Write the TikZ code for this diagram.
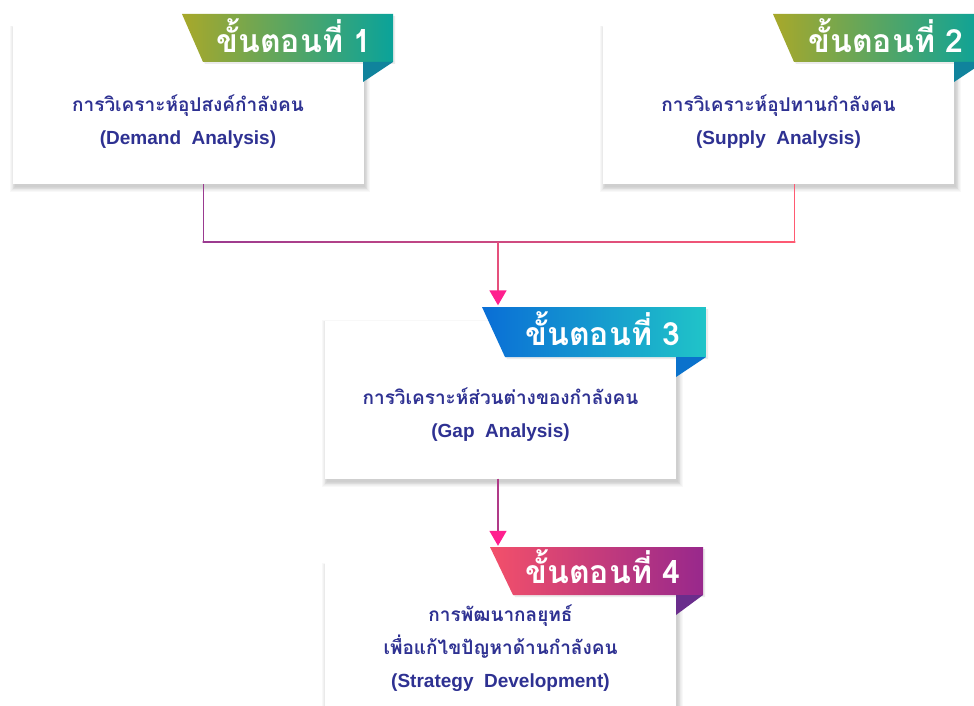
\documentclass[tikz,border=0pt]{standalone}
\usepackage{fontspec}
\setmainfont{Liberation Sans}
\newfontfamily\thai[Script=Thai]{Loma}
\newfontfamily\latf{Liberation Sans}
\usetikzlibrary{arrows.meta,calc}
\definecolor{txtblue}{HTML}{2E3192}
\definecolor{gAl}{HTML}{A8A82A}
\definecolor{gAr}{HTML}{0AA39A}
\definecolor{gAf}{HTML}{10839C}
\definecolor{gBl}{HTML}{0A6ED6}
\definecolor{gBr}{HTML}{20C4C8}
\definecolor{gBf}{HTML}{0A72CC}
\definecolor{gCl}{HTML}{F3506A}
\definecolor{gCr}{HTML}{98288C}
\definecolor{gCf}{HTML}{6A2D8C}
\definecolor{lnpurple}{HTML}{9A3A90}
\definecolor{lnpink}{HTML}{FF5A72}
\definecolor{lnmid}{HTML}{E5507C}
\definecolor{lnmag}{HTML}{B03A88}
\definecolor{tippink}{HTML}{FF1F8E}
\tikzset{
  stepbox/.style={fill=white,draw=none,minimum width=351pt,minimum height=158pt,inner sep=0pt},
  body/.style={text=txtblue,font=\thai\bfseries\fontsize{19}{33}\selectfont,align=center},
  tabtxt/.style={text=white,font=\thai\bfseries\fontsize{32}{32}\selectfont,anchor=base,inner sep=0pt},
  conn/.style={line width=1.7pt},
  tiparrow/.style={-{Triangle[width=17pt,length=15pt,color=tippink]}},
}
\newcommand{\boxshadow}[4]{%
  \foreach \i in {0,1,...,6}{%
    \fill[black,opacity=0.026] ({#1+2-\i*0.8},{#2+3-\i*0.5}) rectangle ({#3+2+\i*0.8},{#4+3+\i*0.8});
  }%
}
\newcommand{\steptab}[9]{%
  \fill[black,opacity=0.08] ({#1+2},{#3+2}) -- ({#2+2},{#3+2}) -- ({#2+2},{#4+2}) -- ({#1+#5+2},{#4+2}) -- cycle;
  \shade[left color=#7,right color=#8] (#1,#3) -- (#2,#3) -- (#2,#4) -- ({#1+#5},#4) -- cycle;
  \fill[#9] (#6,#4) -- (#2,#4) -- (#6,{#4+20}) -- cycle;
}
\begin{document}
\begin{tikzpicture}[x=1pt,y=-1pt]
\useasboundingbox (0,0) rectangle (974,706);
\clip (0,0) rectangle (974,706);
\fill[white] (0,0) rectangle (974,706);
% shadows
\boxshadow{13}{26}{363}{184}
\boxshadow{603}{26}{954}{184}
\boxshadow{325}{320}{676}{479}
\boxshadow{325}{563}{676}{721}
% boxes
\node[stepbox] (b1) at (188,105) {};
\node[stepbox] (b2) at (778.5,105) {};
\node[stepbox] (b3) at (500.5,399.5) {};
\node[stepbox] (b4) at (500.5,642) {};
% tabs
\steptab{182}{393}{14}{62}{21}{363}{gAl}{gAr}{gAf}
\steptab{773}{984}{14}{62}{21}{954}{gAl}{gAr}{gAf}
\steptab{482}{706}{307}{357}{23}{676}{gBl}{gBr}{gBf}
\steptab{490}{703}{547}{595}{23}{676}{gCl}{gCr}{gCf}
\node[tabtxt] (s1) at (294,53) {ขั้นตอนที่ 1};
\node[tabtxt] (s2) at (886,53) {ขั้นตอนที่ 2};
\node[tabtxt] (s3) at (603,345) {ขั้นตอนที่ 3};
\node[tabtxt] (s4) at (603,583) {ขั้นตอนที่ 4};
% body texts
\node[body] (t1) at (188,122) {การวิเคราะห์อุปสงค์กำลังคน\\{\latf\bfseries (Demand\ \ Analysis)}};
\node[body] (t2) at (778.5,122) {การวิเคราะห์อุปทานกำลังคน\\{\latf\bfseries (Supply\ \ Analysis)}};
\node[body] (t3) at (500.5,415) {การวิเคราะห์ส่วนต่างของกำลังคน\\{\latf\bfseries (Gap\ \ Analysis)}};
\node[body] (t4) at (500.5,648) {การพัฒนากลยุทธ์\\เพื่อแก้ไขปัญหาด้านกำลังคน\\{\latf\bfseries (Strategy\ \ Development)}};
% connectors
\coordinate (j) at (498,242);
\coordinate (jl) at (203.5,242);
\coordinate (jr) at (794.5,242);
\draw[conn,lnpurple] ($(b1.south)+(15.5,0)$) -- (jl);
\draw[conn,lnpink] ($(b2.south)+(16,0)$) -- (jr);
\shade[left color=lnpurple,right color=lnpink] ($(jl)+(-0.85,-0.85)$) rectangle ($(jr)+(0.85,0.85)$);
\draw[conn,lnmid,tiparrow] (j) -- ($(b3.north)+(-2.5,-15)$);
\draw[conn,lnmag,tiparrow] ($(b3.south)+(-2.5,0)$) -- ($(b4.north)+(-2.5,-17)$);
\end{tikzpicture}
\end{document}
